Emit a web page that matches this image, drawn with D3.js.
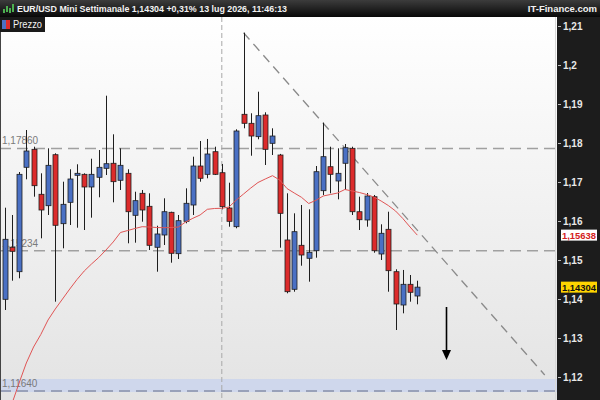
<!DOCTYPE html>
<html>
<head>
<meta charset="utf-8">
<script src="https://d3js.org/d3.v7.min.js"></script>
<style>
  body { margin: 0; background: #fff; }
  text { font-family: "Liberation Sans", Arial, sans-serif; }
</style>
</head>
<body>
<svg width="600" height="400"></svg>
<script>
// weekly candles EUR/USD (oldest first)
var opens  = [1.13992,1.15326,1.14700,1.17377,1.17838,1.16685,1.16392,1.17700,1.15931,1.16479,
              1.17172,1.17197,1.16872,1.17121,1.17351,1.17480,1.17044,1.17223,1.16146,1.16710,
              1.16377,1.15326,1.15641,1.16223,1.15162,1.15992,1.16410,1.17410,1.17197,1.17777,
              1.17238,1.16333,1.15854,1.18736,1.18505,1.18162,1.18718,1.17992,1.17692,1.15513,
              1.14249,1.15377,1.15044,1.15238,1.16777,1.17392,1.17026,1.17480,1.17864,1.16238,
              1.16026,1.16623,1.15154,1.15787,1.14700,1.13846,1.14377,1.14077];
var highs  = [1.16341,1.16154,1.17256,1.18333,1.17905,1.17223,1.17864,1.17736,1.17008,1.17326,
              1.17454,1.17223,1.17597,1.17820,1.19213,1.18223,1.17864,1.17326,1.16751,1.16795,
              1.16710,1.15879,1.16582,1.16238,1.16154,1.16838,1.17649,1.18051,1.18103,1.17905,
              1.17462,1.16982,1.18351,1.20828,1.18762,1.19315,1.18787,1.18377,1.17720,1.16710,
              1.16197,1.16410,1.16300,1.17410,1.18521,1.17905,1.17864,1.17974,1.17905,1.16623,
              1.16718,1.16667,1.15915,1.16238,1.14762,1.14744,1.14615,1.14469];
var lows   = [1.13718,1.14469,1.14531,1.17069,1.16623,1.15556,1.16154,1.13931,1.15300,1.15897,
              1.15828,1.15769,1.16085,1.16608,1.17179,1.16479,1.16795,1.15428,1.15444,1.15982,
              1.15256,1.14700,1.15385,1.14931,1.15026,1.15941,1.16154,1.17008,1.17095,1.17179,
              1.16300,1.15854,1.15813,1.18377,1.17674,1.18095,1.17436,1.17692,1.15315,1.14146,
              1.14187,1.14854,1.14444,1.15059,1.16667,1.16710,1.16556,1.16795,1.16154,1.15769,
              1.15854,1.15187,1.15000,1.14187,1.13205,1.13633,1.13931,1.13864];
var closes = [1.15531,1.15223,1.17197,1.17795,1.16905,1.16282,1.17428,1.15890,1.16428,1.17077,
              1.17223,1.16872,1.17197,1.17377,1.17469,1.17008,1.17428,1.16238,1.16521,1.16282,
              1.15377,1.15667,1.16238,1.15172,1.16008,1.16454,1.17410,1.17095,1.17718,1.17197,
              1.16367,1.15992,1.18308,1.18505,1.18179,1.18700,1.17838,1.18179,1.16197,1.14187,
              1.15726,1.15128,1.15197,1.17264,1.17649,1.17197,1.17223,1.17879,1.16238,1.16033,
              1.16641,1.15238,1.15685,1.14726,1.13872,1.14377,1.14172,1.14304];
// moving average (first week has no value on screen)
var maValues = [null,1.11308,1.11846,1.12359,1.12769,1.13090,1.13462,1.13744,1.14000,1.14256,
              1.14500,1.14718,1.14897,1.15064,1.15256,1.15462,1.15705,1.15756,1.15808,1.15854,
              1.15846,1.15833,1.15828,1.15833,1.15846,1.15974,1.16069,1.16154,1.16300,1.16321,
              1.16326,1.16359,1.16538,1.16692,1.16846,1.16987,1.17077,1.17162,1.17051,1.16833,
              1.16718,1.16608,1.16449,1.16531,1.16641,1.16679,1.16718,1.16808,1.16769,1.16731,
              1.16679,1.16615,1.16513,1.16397,1.16256,1.16064,1.15846,1.15638];
var yTicks = [1.12,1.13,1.14,1.15,1.16,1.17,1.18,1.19,1.20,1.21];
var levels = [1.17860, 1.15234, 1.11640];
var trendLine = [[33, 1.20828], [74.6, 1.12051]];
var arrowPts = [[60.9, 1.13795], [60.9, 1.12436]];
var cursorIndex = 30;
var lastPrice = 1.14304, maLast = 1.15638;
var title = "EUR/USD Mini Settimanale 1,14304 +0,31% 13 lug 2026, 11:46:13";

var W = 600, H = 400, plotR = 557, plotTop = 17;
var svg = d3.select("svg");
var it = d3.formatLocale({decimal: ",", thousands: ".", grouping: [3], currency: ["", "€"]});
var fmtTick = it.format(".2~f"), fmt5 = it.format(".5f");

var x = d3.scaleLinear().domain([0, closes.length - 1]).range([4.6, 417.3]);
var y = d3.scaleLinear().domain([1.12, 1.21]).range([377, 26]);

var defs = svg.append("defs");
var bg = defs.append("linearGradient").attr("id", "bg").attr("x1", 0).attr("x2", 0).attr("y1", 0).attr("y2", 1);
bg.append("stop").attr("offset", "0%").attr("stop-color", "#ffffff");
bg.append("stop").attr("offset", "100%").attr("stop-color", "#e3e3e3");
var hd = defs.append("linearGradient").attr("id", "hd").attr("x1", 0).attr("x2", 0).attr("y1", 0).attr("y2", 1);
hd.append("stop").attr("offset", "0%").attr("stop-color", "#3c3c3c");
hd.append("stop").attr("offset", "100%").attr("stop-color", "#080808");
defs.append("clipPath").attr("id", "plot").append("rect")
  .attr("x", 0).attr("y", plotTop).attr("width", plotR).attr("height", H - plotTop);

svg.append("rect").attr("x", 0).attr("y", plotTop).attr("width", plotR).attr("height", H - plotTop).attr("fill", "url(#bg)");

var plot = svg.append("g").attr("clip-path", "url(#plot)");

// blue band around lowest level
plot.append("rect").attr("x", 0).attr("width", plotR)
  .attr("y", y(levels[2]) - 12).attr("height", 13)
  .attr("fill", "#cfd7ec");

// horizontal level lines
plot.selectAll("line.lvl").data(levels).enter().append("line")
  .attr("x1", 0).attr("x2", plotR)
  .attr("y1", function(d) { return y(d); }).attr("y2", function(d) { return y(d); })
  .attr("stroke", function(d, i) { return i == 2 ? "#8890a8" : "#a0a0a0"; })
  .attr("stroke-width", 1.5).attr("stroke-dasharray", "11,6");
plot.selectAll("text.lvl").data(levels).enter().append("text")
  .attr("x", 2).attr("y", function(d) { return y(d) - 4; })
  .attr("font-size", 10).attr("fill", "#7a7a7a")
  .text(function(d) { return fmt5(d); });

// vertical cursor
plot.append("line").attr("x1", x(cursorIndex)).attr("x2", x(cursorIndex))
  .attr("y1", plotTop).attr("y2", H)
  .attr("stroke", "#a8a8a8").attr("stroke-dasharray", "5,3");

// trend line
plot.append("line")
  .attr("x1", x(trendLine[0][0])).attr("y1", y(trendLine[0][1]))
  .attr("x2", x(trendLine[1][0])).attr("y2", y(trendLine[1][1]))
  .attr("stroke", "#8a8a8a").attr("stroke-width", 1.3).attr("stroke-dasharray", "9,6");

// candles
var idx = d3.range(closes.length);
plot.selectAll("line.wick").data(idx).enter().append("line")
  .attr("x1", function(i) { return Math.round(x(i)) + 0.5; })
  .attr("x2", function(i) { return Math.round(x(i)) + 0.5; })
  .attr("y1", function(i) { return y(highs[i]); })
  .attr("y2", function(i) { return y(lows[i]); })
  .attr("stroke", "#1e1e1e").attr("stroke-width", 1);
plot.selectAll("rect.body").data(idx).enter().append("rect")
  .attr("x", function(i) { return Math.round(x(i)) - 2; })
  .attr("width", 5)
  .attr("y", function(i) { return y(Math.max(opens[i], closes[i])); })
  .attr("height", function(i) { return Math.max(1.5, Math.abs(y(opens[i]) - y(closes[i]))); })
  .attr("fill", function(i) { return closes[i] >= opens[i] ? "#4a70c4" : "#dc2b2b"; })
  .attr("stroke", "#1e1e1e").attr("stroke-width", 0.8);

// moving average
plot.append("path")
  .datum(idx.filter(function(i) { return maValues[i] != null; }))
  .attr("d", d3.line().x(function(i) { return x(i); }).y(function(i) { return y(maValues[i]); }))
  .attr("fill", "none").attr("stroke", "#e05555").attr("stroke-width", 1);

// arrow
var ax = Math.round(x(arrowPts[0][0])) + 0.5, ay0 = y(arrowPts[0][1]), ay1 = y(arrowPts[1][1]);
plot.append("line").attr("x1", ax).attr("x2", ax).attr("y1", ay0).attr("y2", ay1 - 8)
  .attr("stroke", "#000").attr("stroke-width", 1.6);
plot.append("path")
  .attr("d", "M" + (ax - 4.5) + "," + (ay1 - 10) + "L" + (ax + 4.5) + "," + (ay1 - 10) + "L" + ax + "," + ay1 + "Z")
  .attr("fill", "#000");

// left border and right plot edge
svg.append("line").attr("x1", 0.5).attr("x2", 0.5).attr("y1", plotTop).attr("y2", H).attr("stroke", "#444");
svg.append("line").attr("x1", plotR - 1.5).attr("x2", plotR - 1.5).attr("y1", plotTop).attr("y2", H).attr("stroke", "#d8d8d8");

// right axis panel
svg.append("rect").attr("x", plotR).attr("y", plotTop).attr("width", W - plotR).attr("height", H - plotTop).attr("fill", "#1c1c1c");
var axis = d3.axisRight(y).tickValues(yTicks).tickSize(3).tickPadding(2).tickFormat(fmtTick);
var ga = svg.append("g").attr("transform", "translate(" + (plotR + 1) + ",0)").call(axis);
ga.select(".domain").remove();
ga.selectAll(".tick line").attr("stroke", "#bbb");
ga.selectAll(".tick text").attr("fill", "#e8e8e8").attr("font-size", 10).attr("font-weight", "bold")
  .attr("font-family", "Liberation Sans, Arial, sans-serif");

// price tags
[[maLast, "#ffffff", "#d42020"], [lastPrice, "#ffd400", "#111"]].forEach(function(t) {
  var g = svg.append("g").attr("transform", "translate(" + (plotR + 4) + "," + y(t[0]) + ")");
  g.append("rect").attr("x", 0).attr("y", -5.5).attr("width", 36).attr("height", 11).attr("fill", t[1]);
  g.append("text").attr("x", 1).attr("y", 3.8).attr("font-size", 9.5).attr("font-weight", "bold")
    .attr("textLength", 34).attr("lengthAdjust", "spacingAndGlyphs")
    .attr("fill", t[2]).text(fmt5(t[0]));
});

// header
svg.append("rect").attr("x", 0).attr("y", 0).attr("width", W).attr("height", plotTop).attr("fill", "url(#hd)");
[[3, 7, 4], [6, 4, 6], [9, 6, 5], [12, 2, 8]].forEach(function(b) {
  svg.append("rect").attr("x", b[0]).attr("y", b[1] + 2).attr("width", 2).attr("height", b[2]).attr("fill", "#4caf50");
});
svg.append("text").attr("x", 17).attr("y", 12).attr("font-size", 9.5).attr("font-weight", "bold")
  .attr("textLength", 270).attr("lengthAdjust", "spacingAndGlyphs")
  .attr("fill", "#f2f2f2").text(title);
svg.append("text").attr("x", 597).attr("y", 12).attr("text-anchor", "end").attr("font-size", 9.5)
  .attr("font-weight", "bold").attr("fill", "#f2f2f2").text("IT-Finance.com");

// legend
svg.append("rect").attr("x", 0).attr("y", plotTop).attr("width", 45).attr("height", 15).attr("fill", "#1a1a1a");
svg.append("rect").attr("x", 2).attr("y", plotTop + 3).attr("width", 4).attr("height", 9).attr("fill", "#4a70c4");
svg.append("rect").attr("x", 6).attr("y", plotTop + 3).attr("width", 4).attr("height", 9).attr("fill", "#dc2b2b");
svg.append("text").attr("x", 13).attr("y", plotTop + 11).attr("font-size", 10)
  .attr("textLength", 29).attr("lengthAdjust", "spacingAndGlyphs")
  .attr("fill", "#f2f2f2").text("Prezzo");
</script>
</body>
</html>
